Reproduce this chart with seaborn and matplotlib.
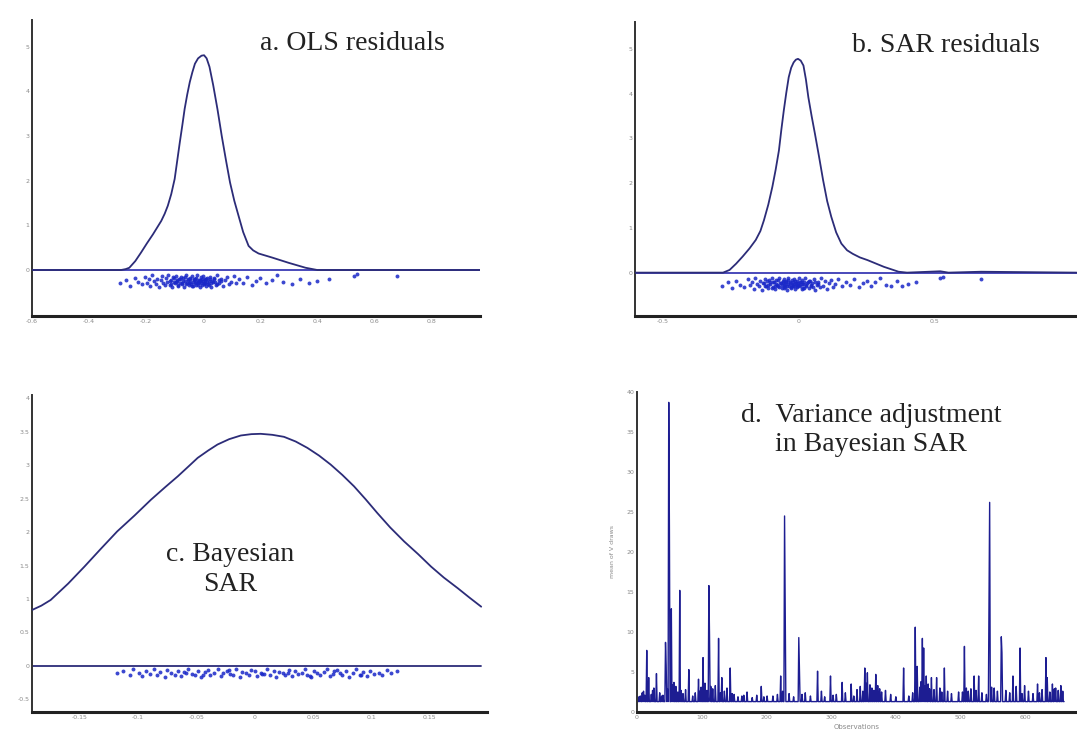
import numpy as np
import pandas as pd
import matplotlib
matplotlib.use('Agg')
import matplotlib.pyplot as plt
import seaborn as sns

# ---- panel a: OLS residual density
ols_x = [-0.60, -0.288, -0.272, -0.259, -0.238, -0.218, -0.197, -0.176, -0.147, -0.135, -0.124,
         -0.112, -0.100, -0.091, -0.082, -0.073, -0.065, -0.056, -0.047, -0.038, -0.029, -0.018,
         -0.006, 0.003, 0.012, 0.022, 0.035, 0.05, 0.065, 0.08, 0.094, 0.109, 0.124, 0.14, 0.159,
         0.175, 0.194, 0.241, 0.30, 0.359, 0.40, 0.97]
ols_y = [0.0, 0.0, 0.02, 0.05, 0.2, 0.39, 0.6, 0.80, 1.10, 1.26, 1.44,
         1.7, 2.04, 2.45, 2.86, 3.25, 3.61, 3.93, 4.21, 4.43, 4.62, 4.74,
         4.80, 4.81, 4.74, 4.55, 4.14, 3.6, 3.00, 2.45, 1.96, 1.55, 1.21, 0.85, 0.54,
         0.44, 0.37, 0.28, 0.16, 0.05, 0.0, 0.0]

# residual values shown as dots under the curve
ols_res = [-0.29, -0.27, -0.255, -0.24, -0.23, -0.215,
           -0.205, -0.198, -0.19, -0.186, -0.178, -0.172, -0.165, -0.161, -0.155, -0.149,
           -0.144, -0.14, -0.135, -0.131, -0.127, -0.122, -0.118, -0.114, -0.11, -0.106,
           -0.102, -0.098, -0.095, -0.091, -0.087, -0.084, -0.08, -0.077, -0.073, -0.07,
           -0.066, -0.063, -0.06, -0.057, -0.054, -0.051, -0.048, -0.045, -0.042, -0.039,
           -0.036, -0.033, -0.03, -0.027, -0.024, -0.021, -0.018, -0.015, -0.012, -0.009,
           -0.006, -0.003, 0.0, 0.003, 0.006, 0.009, 0.013, 0.017, 0.021, 0.025,
           0.029, 0.034, 0.039, 0.044, 0.05, 0.056, 0.062, 0.068, 0.075, 0.082,
           0.09, 0.098, 0.107, 0.116,
           0.125, 0.14, 0.155, 0.17, 0.185, 0.2, 0.22, 0.24, 0.26, 0.28, 0.31, 0.34,
           0.37, 0.4, 0.44, 0.53, 0.54, 0.68]
jitter = [-0.30, -0.22, -0.35, -0.18, -0.27, -0.32,
          -0.15, -0.28, -0.21, -0.36, -0.12, -0.25, -0.31, -0.19, -0.38, -0.23,
          -0.14, -0.29, -0.34, -0.17, -0.26, -0.11, -0.33, -0.22, -0.37, -0.16,
          -0.27, -0.30, -0.13, -0.24, -0.35, -0.20, -0.28, -0.15, -0.32, -0.18,
          -0.38, -0.25, -0.12, -0.29, -0.21, -0.34, -0.17, -0.26, -0.31, -0.14,
          -0.36, -0.23, -0.19, -0.33, -0.27, -0.11, -0.30, -0.22, -0.37, -0.16,
          -0.25, -0.34, -0.13, -0.28, -0.20, -0.35, -0.18, -0.31, -0.24, -0.15,
          -0.38, -0.27, -0.21, -0.33, -0.12, -0.29, -0.19, -0.36, -0.23, -0.16,
          -0.32, -0.26, -0.14, -0.30,
          -0.20, -0.28, -0.15, -0.33, -0.24, -0.18, -0.30, -0.22, -0.12, -0.27, -0.31, -0.19,
          -0.29, -0.25, -0.21, -0.13, -0.10, -0.14]
# extra dots in the dense middle of the cloud
ols_core = [-0.118, -0.112, -0.104, -0.097, -0.093, -0.088, -0.081, -0.076, -0.071, -0.064,
            -0.059, -0.055, -0.05, -0.046, -0.041, -0.037, -0.032, -0.028, -0.025, -0.02,
            -0.017, -0.013, -0.01, -0.007, -0.004, -0.001, 0.002, 0.005, 0.008, 0.011,
            0.015, 0.019, 0.023, 0.027, 0.032, 0.037, 0.043, 0.049, 0.055, 0.061]
core_jit = [-0.24, -0.31, -0.18, -0.27, -0.22, -0.34, -0.20, -0.29, -0.25, -0.16,
            -0.32, -0.23, -0.28, -0.19, -0.35, -0.26, -0.21, -0.30, -0.17, -0.24,
            -0.33, -0.27, -0.22, -0.29, -0.19, -0.25, -0.31, -0.23, -0.28, -0.20,
            -0.26, -0.34, -0.21, -0.30, -0.24, -0.18, -0.27, -0.32, -0.22, -0.25]

# ---- panel b: SAR residual density
sar_x = [-0.60, -0.277, -0.253, -0.229, -0.205, -0.18, -0.157, -0.14, -0.127, -0.111, -0.096,
         -0.084, -0.072, -0.063, -0.054, -0.045, -0.036, -0.027, -0.018, -0.01, -0.002, 0.008,
         0.018, 0.027, 0.036, 0.048, 0.06, 0.075, 0.09, 0.105, 0.12, 0.138, 0.157, 0.178, 0.199,
         0.225, 0.253, 0.313, 0.367, 0.398, 0.52, 0.55, 0.67, 1.02]
sar_y = [0.0, 0.0, 0.06, 0.2, 0.36, 0.54, 0.73, 0.93, 1.17, 1.52, 1.92,
         2.3, 2.73, 3.2, 3.63, 4.02, 4.37, 4.58, 4.70, 4.76, 4.78, 4.74,
         4.63, 4.32, 3.92, 3.5, 3.11, 2.6, 2.07, 1.6, 1.25, 0.9, 0.65, 0.5, 0.42,
         0.34, 0.28, 0.13, 0.02, 0.0, 0.03, 0.0, 0.02, 0.0]
sar_res = [-0.28, -0.26, -0.245, -0.23, -0.215, -0.2,
           -0.185, -0.178, -0.171, -0.165, -0.158, -0.152, -0.146, -0.14, -0.134, -0.128,
           -0.123, -0.118, -0.113, -0.108, -0.103, -0.098, -0.094, -0.09, -0.086, -0.082,
           -0.078, -0.074, -0.07, -0.066, -0.062, -0.058, -0.055, -0.052, -0.049, -0.046,
           -0.043, -0.04, -0.037, -0.034, -0.031, -0.028, -0.025, -0.022, -0.019, -0.016,
           -0.013, -0.01, -0.007, -0.004, -0.001, 0.002, 0.005, 0.008, 0.011, 0.014,
           0.017, 0.021, 0.025, 0.029, 0.033, 0.037, 0.041, 0.046, 0.051, 0.056,
           0.061, 0.066, 0.072, 0.078, 0.084, 0.09, 0.096, 0.103, 0.11, 0.118,
           0.126, 0.135, 0.145, 0.16,
           0.175, 0.19, 0.205, 0.22, 0.235, 0.25, 0.265, 0.28, 0.3, 0.32, 0.34, 0.36,
           0.38, 0.4, 0.43, 0.52, 0.53, 0.67]
sar_core = [-0.13, -0.124, -0.117, -0.111, -0.105, -0.099, -0.093, -0.087, -0.082, -0.077,
            -0.072, -0.067, -0.062, -0.057, -0.053, -0.049, -0.045, -0.041, -0.037, -0.033,
            -0.029, -0.025, -0.021, -0.017, -0.013, -0.009, -0.005, -0.001, 0.003, 0.007,
            0.011, 0.016, 0.021, 0.026, 0.032, 0.038, 0.045, 0.052, 0.06, 0.07]

# ---- panel c: Bayesian SAR density
bay_x = [-0.191, -0.183, -0.175, -0.160, -0.146, -0.132, -0.118, -0.103, -0.089, -0.077, -0.066,
         -0.057, -0.049, -0.04, -0.032, -0.022, -0.012, -0.003, 0.005, 0.015, 0.025, 0.035,
         0.045, 0.055, 0.065, 0.075, 0.085, 0.095, 0.105, 0.116, 0.128, 0.14, 0.151, 0.162,
         0.174, 0.184, 0.194]
bay_y = [0.835, 0.9, 0.985, 1.23, 1.485, 1.75, 2.01, 2.25, 2.485, 2.67, 2.835,
         2.98, 3.11, 3.22, 3.31, 3.39, 3.445, 3.465, 3.47, 3.455, 3.425, 3.355,
         3.26, 3.145, 3.01, 2.855, 2.685, 2.49, 2.285, 2.07, 1.86, 1.67, 1.485, 1.32,
         1.16, 1.02, 0.885]
bay_res = [-0.118, -0.113, -0.107, -0.104, -0.099, -0.097, -0.093, -0.09, -0.086, -0.084,
           -0.081, -0.077, -0.075, -0.072, -0.068, -0.066, -0.063, -0.059, -0.057, -0.054,
           -0.051, -0.049, -0.046, -0.043, -0.04, -0.038, -0.035, -0.032, -0.029, -0.027,
           -0.024, -0.021, -0.019, -0.016, -0.013, -0.011, -0.008, -0.005, -0.003, 0.0,
           0.002, 0.005, 0.008, 0.01, 0.013, 0.016, 0.018, 0.021, 0.024, 0.026,
           0.029, 0.032, 0.034, 0.037, 0.04, 0.043, 0.045, 0.048, 0.051, 0.053,
           0.056, 0.059, 0.062, 0.064, 0.067, 0.07, 0.073, 0.075, 0.078, 0.081,
           0.084, 0.087, 0.09, 0.093, 0.096, 0.099, 0.102, 0.106, 0.109, 0.113,
           0.117, 0.122, -0.061, -0.044, -0.022, 0.006, 0.028, 0.047, 0.068, 0.091]
bay_jit = [-0.10, -0.07, -0.13, -0.05, -0.11, -0.15, -0.08, -0.12, -0.04, -0.14,
           -0.09, -0.16, -0.06, -0.11, -0.13, -0.07, -0.15, -0.10, -0.05, -0.12,
           -0.14, -0.08, -0.16, -0.09, -0.06, -0.13, -0.11, -0.04, -0.15, -0.10,
           -0.07, -0.12, -0.14, -0.05, -0.16, -0.09, -0.11, -0.13, -0.06, -0.08,
           -0.15, -0.10, -0.12, -0.04, -0.14, -0.07, -0.16, -0.09, -0.11, -0.13,
           -0.06, -0.15, -0.08, -0.12, -0.10, -0.05, -0.14, -0.16, -0.07, -0.11,
           -0.13, -0.09, -0.04, -0.15, -0.12, -0.06, -0.10, -0.14, -0.08, -0.16,
           -0.11, -0.05, -0.13, -0.09, -0.15, -0.07, -0.12, -0.10, -0.14, -0.06,
           -0.11, -0.08, -0.09, -0.14, -0.06, -0.12, -0.10, -0.15, -0.07, -0.13]

# ---- panel d: mean of v draws per observation
n_obs = 660
v_base = 1.3
spike_obs = [15, 18, 30, 44, 45, 49, 50, 53, 57, 66, 80, 95, 102, 111, 112, 126, 131, 144, 162,
             192, 201, 222, 228, 229, 250, 251, 279, 299, 317, 331, 352, 356, 369, 384, 412,
             430, 433, 441, 443, 447, 455, 463, 475, 497, 506, 521, 528, 544, 545, 563, 564,
             581, 592, 599, 619, 632, 634, 642, 655]
spike_val = [7.7, 4.3, 4.8, 8.7, 5.9, 38.7, 23.2, 12.9, 3.7, 15.2, 5.3, 4.1, 6.8, 15.8, 9.6, 9.2,
             4.3, 5.5, 2.0, 3.2, 2.0, 4.5, 24.5, 12.9, 9.3, 5.6, 5.1, 4.5, 3.7, 3.5, 5.5, 4.9,
             4.7, 2.7, 5.5, 10.6, 5.7, 9.2, 8.0, 4.5, 4.3, 4.3, 5.5, 2.5, 8.2, 4.5, 4.5, 13.9,
             26.2, 9.4, 7.4, 4.5, 8.0, 3.3, 3.5, 6.8, 4.3, 3.5, 3.3]
bump_obs = [3, 5, 8, 10, 12, 22, 24, 26, 35, 38, 40, 47, 55, 60, 63, 68, 71, 75, 86, 90, 97, 99,
            105, 108, 114, 117, 121, 129, 135, 139, 147, 150, 156, 165, 170, 178, 185, 196, 210,
            217, 225, 235, 242, 255, 260, 268, 285, 290, 303, 308, 322, 335, 340, 345, 349, 354,
            360, 363, 366, 372, 375, 378, 392, 400, 420, 426, 437, 439, 445, 450, 452, 459, 468,
            471, 480, 486, 503, 509, 512, 516, 524, 533, 540, 548, 552, 557, 570, 576, 586, 595,
            605, 612, 622, 626, 638, 645, 647, 651, 658]
bump_val = [1.9, 2.0, 2.4, 2.6, 2.1, 2.2, 2.7, 3.0, 2.4, 2.0, 2.1, 2.9, 3.4, 3.2, 2.5, 2.7, 2.3,
            2.8, 2.0, 2.4, 2.6, 3.1, 3.6, 2.7, 3.2, 2.9, 3.3, 2.4, 2.6, 3.0, 2.3, 2.2, 1.9, 2.1,
            2.5, 1.8, 2.1, 1.9, 2.0, 2.2, 2.6, 2.3, 1.9, 2.2, 2.4, 2.0, 2.6, 1.9, 2.1, 2.2, 2.4,
            2.0, 2.8, 3.2, 2.6, 3.6, 3.4, 3.0, 2.7, 3.3, 2.9, 2.5, 2.2, 1.9, 2.0, 2.4, 3.1, 3.8,
            3.3, 3.5, 2.9, 2.8, 3.0, 2.5, 2.6, 2.3, 2.5, 3.0, 2.6, 2.9, 2.7, 2.4, 2.2, 3.1, 3.0,
            2.6, 2.7, 2.4, 3.2, 2.3, 2.6, 2.3, 2.4, 2.8, 2.5, 2.9, 3.0, 2.7, 2.6]

curve_col = '#2c2c78'
zero_col = '#3a3ab4'
dot_col = '#1a28c8'
tick_col = '#8a8a8a'

sns.set_style('white')
fig = plt.figure(figsize=(10.77, 7.31), dpi=100)

ax_a = fig.add_axes([0.0297, 0.5677, 0.416, 0.405])
ax_b = fig.add_axes([0.5896, 0.5677, 0.410, 0.402])
ax_c = fig.add_axes([0.0297, 0.026, 0.4225, 0.4336])
ax_d = fig.add_axes([0.5915, 0.026, 0.4085, 0.4378])


def style(ax):
    sns.despine(ax=ax)
    ax.spines['left'].set_color('#333333')
    ax.spines['left'].set_linewidth(1.4)
    ax.spines['bottom'].set_color('#222222')
    ax.spines['bottom'].set_linewidth(2.2)
    ax.tick_params(direction='in', length=3, width=1.5, color='#222222',
                   labelsize=4.5, labelcolor=tick_col, pad=2)


def dots(ax, rx, ry):
    sns.scatterplot(x=rx, y=ry, ax=ax, color=dot_col, s=8, linewidth=0, alpha=0.85, zorder=2)


def density_panel(ax, cx, cy, rx, ry, xlim):
    ax.axhline(0, color=zero_col, lw=1.3, zorder=1)
    sns.lineplot(x=cx, y=cy, ax=ax, color=curve_col, lw=1.3, sort=False, zorder=3)
    dots(ax, rx, ry)
    ax.set_xlim(*xlim)


serif = 'Liberation Serif'

# a
density_panel(ax_a, ols_x, ols_y, ols_res, jitter, (-0.6, 0.97))
dots(ax_a, ols_core, core_jit)
ax_a.set_ylim(-1.03, 5.6)
ax_a.set_xticks([-0.6, -0.4, -0.2, 0, 0.2, 0.4, 0.6, 0.8])
ax_a.set_xticklabels(['-0.6', '-0.4', '-0.2', '0', '0.2', '0.4', '0.6', '0.8'])
ax_a.set_yticks([0, 1, 2, 3, 4, 5])
ax_a.set_yticklabels(['0', '1', '2', '3', '4', '5'])
ax_a.text(0.714, 0.922, 'a. OLS residuals', transform=ax_a.transAxes, ha='center', va='center',
          family=serif, fontsize=20, color='#222222')
style(ax_a)

# b
density_panel(ax_b, sar_x, sar_y, sar_res, jitter, (-0.6, 1.02))
dots(ax_b, sar_core, core_jit)
ax_b.set_ylim(-0.97, 5.6)
ax_b.set_xticks([-0.5, 0, 0.5])
ax_b.set_xticklabels(['-0.5', '0', '0.5'])
ax_b.set_yticks([0, 1, 2, 3, 4, 5])
ax_b.set_yticklabels(['0', '1', '2', '3', '4', '5'])
ax_b.text(0.704, 0.922, 'b. SAR residuals', transform=ax_b.transAxes, ha='center', va='center',
          family=serif, fontsize=20, color='#222222')
style(ax_b)

# c
ax_c.plot([-0.191, 0.194], [0, 0], color=curve_col, lw=1.3, zorder=1)
sns.lineplot(x=bay_x, y=bay_y, ax=ax_c, color=curve_col, lw=1.3, sort=False, zorder=3)
dots(ax_c, bay_res, bay_jit)
ax_c.set_xlim(-0.191, 0.199)
ax_c.set_ylim(-0.69, 4.05)
ax_c.set_xticks([-0.15, -0.1, -0.05, 0, 0.05, 0.1, 0.15])
ax_c.set_xticklabels(['-0.15', '-0.1', '-0.05', '0', '0.05', '0.1', '0.15'])
ax_c.set_yticks([-0.5, 0, 0.5, 1, 1.5, 2, 2.5, 3, 3.5, 4])
ax_c.set_yticklabels(['-0.5', '0', '0.5', '1', '1.5', '2', '2.5', '3', '3.5', '4'])
ax_c.text(0.435, 0.45, 'c. Bayesian\nSAR', transform=ax_c.transAxes, ha='center', va='center',
          family=serif, fontsize=20, color='#222222', linespacing=1.25)
style(ax_c)

# d
v = pd.Series(v_base, index=np.arange(1, n_obs + 1))
v.loc[bump_obs] = bump_val
v.loc[spike_obs] = spike_val
dfv = pd.DataFrame({'obs': v.index, 'vmean': v.values})
sns.lineplot(data=dfv, x='obs', y='vmean', ax=ax_d, color='#1d1d92', lw=1.0)
ax_d.set_xlim(0, 680)
ax_d.set_ylim(0, 40)
ax_d.set_xticks([0, 100, 200, 300, 400, 500, 600])
ax_d.set_yticks([0, 5, 10, 15, 20, 25, 30, 35, 40])
ax_d.set_xlabel('Observations', fontsize=5, color=tick_col, labelpad=3)
ax_d.set_ylabel('mean of V draws', fontsize=4.5, color=tick_col, labelpad=8)
ax_d.text(0.532, 0.881, 'd.  Variance adjustment\nin Bayesian SAR', transform=ax_d.transAxes,
          ha='center', va='center', family=serif, fontsize=20, color='#222222', linespacing=1.25)
style(ax_d)

fig.savefig('out.png', dpi=100)
